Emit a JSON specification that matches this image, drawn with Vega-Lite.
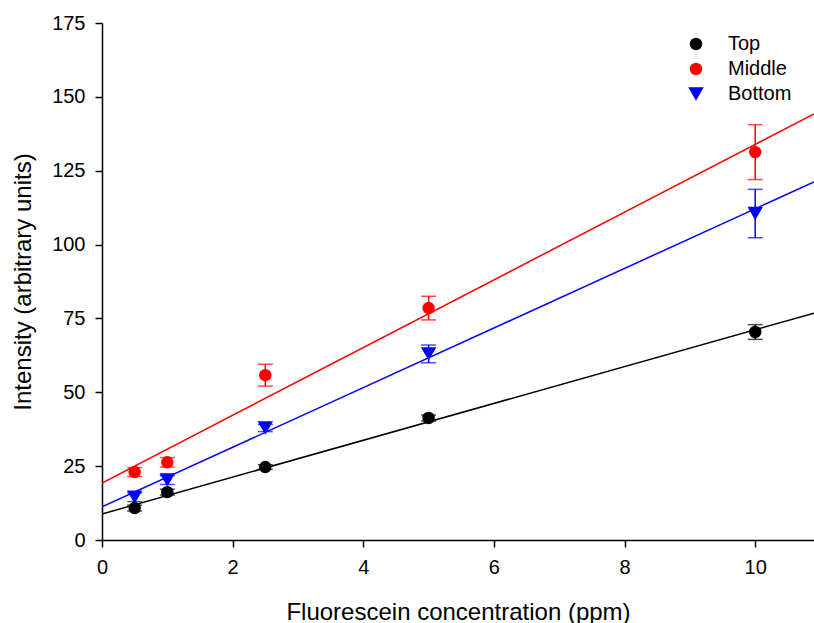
{
  "$schema": "https://vega.github.io/schema/vega-lite/v6.json",
  "width": 712,
  "height": 517,
  "autosize": {"type": "none"},
  "padding": {"left": 102, "top": 23, "right": 0, "bottom": 83},
  "background": "white",
  "config": {
    "view": {"stroke": null},
    "font": "Liberation Sans"
  },
  "datasets": {
    "pts": [
      {"series": "Top", "conc": 0.5, "intensity": 10.8, "err": 1.0},
      {"series": "Top", "conc": 1, "intensity": 16.2, "err": 1.0},
      {"series": "Top", "conc": 2.5, "intensity": 24.7, "err": 0.8},
      {"series": "Top", "conc": 5, "intensity": 41.3, "err": 1.0},
      {"series": "Top", "conc": 10, "intensity": 70.4, "err": 2.5},
      {"series": "Middle", "conc": 0.5, "intensity": 23.0, "err": 1.5},
      {"series": "Middle", "conc": 1, "intensity": 26.3, "err": 1.6},
      {"series": "Middle", "conc": 2.5, "intensity": 55.8, "err": 3.7},
      {"series": "Middle", "conc": 5, "intensity": 78.5, "err": 4.0},
      {"series": "Middle", "conc": 10, "intensity": 131.3, "err": 9.3},
      {"series": "Bottom", "conc": 0.5, "intensity": 14.5, "err": 1.5},
      {"series": "Bottom", "conc": 1, "intensity": 20.3, "err": 1.5},
      {"series": "Bottom", "conc": 2.5, "intensity": 37.9, "err": 1.2},
      {"series": "Bottom", "conc": 5, "intensity": 63.0, "err": 3.0},
      {"series": "Bottom", "conc": 10, "intensity": 110.5, "err": 8.2}
    ],
    "fits": [
      {"series": "Top", "conc": 0, "intensity": 8.8},
      {"series": "Top", "conc": 10.9, "intensity": 76.8},
      {"series": "Middle", "conc": 0, "intensity": 19.3},
      {"series": "Middle", "conc": 10.9, "intensity": 144.2},
      {"series": "Bottom", "conc": 0, "intensity": 11.2},
      {"series": "Bottom", "conc": 10.9, "intensity": 121.2}
    ]
  },
  "encoding": {
    "x": {
      "field": "conc", "type": "quantitative",
      "scale": {"domain": [0, 10.9], "nice": false, "zero": false},
      "axis": {"values": [0, 2, 4, 6, 8, 10], "title": "Fluorescein concentration (ppm)", "labelFlush": false,
        "grid": false, "domainColor": "black", "domainWidth": 1.5, "tickColor": "black", "tickWidth": 1.5, "tickSize": 7,
        "labelColor": "black", "labelFontSize": 20, "labelFont": "Liberation Sans", "labelPadding": 10,
        "titleFont": "Liberation Sans", "titleFontSize": 24, "titleFontWeight": "normal", "titleColor": "black", "titlePadding": 23}
    },
    "y": {
      "field": "intensity", "type": "quantitative",
      "scale": {"domain": [0, 175], "nice": false},
      "axis": {"values": [0, 25, 50, 75, 100, 125, 150, 175], "title": "Intensity (arbitrary units)", "labelFlush": false,
        "grid": false, "domainColor": "black", "domainWidth": 1.5, "tickColor": "black", "tickWidth": 1.5, "tickSize": 7,
        "labelColor": "black", "labelFontSize": 20, "labelFont": "Liberation Sans", "labelPadding": 10,
        "titleFont": "Liberation Sans", "titleFontSize": 24, "titleFontWeight": "normal", "titleColor": "black", "titlePadding": 16}
    }
  },
  "layer": [
    {
      "data": {"name": "fits"},
      "mark": {"type": "line", "strokeWidth": 1.5, "clip": true},
      "encoding": {
        "detail": {"field": "series"},
        "color": {"field": "series", "type": "nominal", "scale": {"domain": ["Top", "Middle", "Bottom"], "range": ["#000000", "#ff0000", "#0000ff"]}, "legend": null}
      }
    },
    {
      "data": {"name": "pts"},
      "mark": {"type": "errorbar", "ticks": {"size": 15}, "thickness": 1.5},
      "encoding": {
        "y": {"field": "intensity", "type": "quantitative"},
        "yError": {"field": "err"},
        "color": {"field": "series", "type": "nominal", "legend": null}
      }
    },
    {
      "data": {"name": "pts"},
      "mark": {"type": "point", "filled": true, "opacity": 1},
      "encoding": {
        "color": {"field": "series", "type": "nominal", "title": null,
          "legend": {"orient": "none", "legendX": 584, "legendY": 11, "labelFontSize": 20, "labelFont": "Liberation Sans", "labelColor": "black", "rowPadding": 5, "labelOffset": 22, "symbolOpacity": 1}},
        "shape": {"field": "series", "type": "nominal", "title": null,
          "scale": {"domain": ["Top", "Middle", "Bottom"], "range": ["circle", "circle", "triangle-down"]}},
        "size": {"field": "series", "type": "nominal", "title": null,
          "scale": {"type": "ordinal", "domain": ["Top", "Middle", "Bottom"], "range": [155, 155, 240]}}
      }
    }
  ],
  "resolve": {"legend": {"color": "independent", "shape": "independent", "size": "independent"}}
}
